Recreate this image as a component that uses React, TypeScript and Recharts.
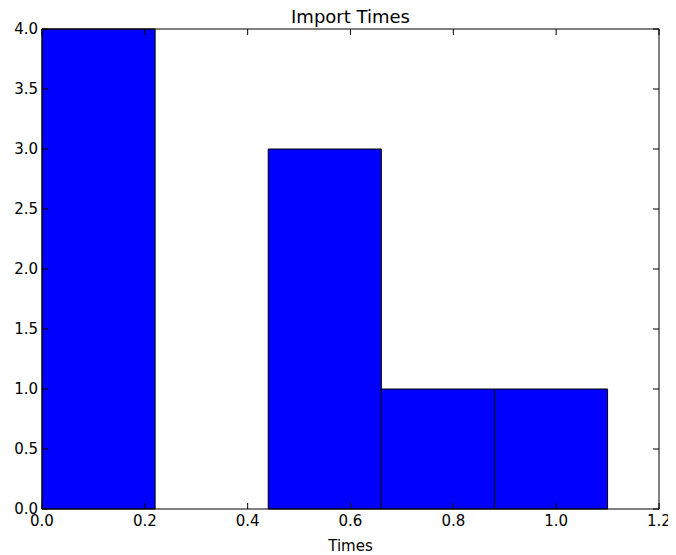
import { ComposedChart, Line, ReferenceArea, XAxis, YAxis } from 'recharts'

// histogram bins: edges and counts
const binStarts = [0.0, 0.22, 0.44, 0.66, 0.88]
const binEnds = [0.22, 0.44, 0.66, 0.88, 1.1]
const counts = [4, 0, 3, 1, 1]

const xTicks = [0, 0.2, 0.4, 0.6, 0.8, 1.0, 1.2]
const yTicks = [0, 0.5, 1, 1.5, 2, 2.5, 3, 3.5, 4]

const bins = binStarts.map((s, i) => ({ start: s, end: binEnds[i], mid: (s + binEnds[i]) / 2, count: counts[i] }))

const font = { fontSize: 15, fill: '#000', fontFamily: 'DejaVu Sans' }
const fmt = (v: number) => v.toFixed(1)

export default function App() {
  return (
    <div style={{ position: 'relative', width: 668, height: 547, fontFamily: 'DejaVu Sans' }}>
      <div
        style={{
          position: 'absolute',
          top: -2,
          left: 34,
          width: 617,
          textAlign: 'center',
          fontSize: 18,
          color: '#000',
        }}
      >
        Import Times
      </div>
      <ComposedChart width={668} height={547} data={bins} margin={{ top: 20, right: 16, left: 0, bottom: 0 }}>
        <XAxis
          dataKey="mid"
          type="number"
          domain={[0, 1.2]}
          ticks={xTicks}
          tickFormatter={fmt}
          height={46}
          tickSize={-6}
          tickMargin={12}
          tick={font}
          stroke="#000"
          interval={0}
          label={{ value: 'Times', position: 'insideBottom', offset: 4, style: font }}
        />
        <XAxis
          xAxisId="top"
          dataKey="mid"
          orientation="top"
          type="number"
          domain={[0, 1.2]}
          ticks={xTicks}
          height={1}
          tickSize={-6}
          tickFormatter={() => ''}
          stroke="#000"
          interval={0}
        />
        <YAxis
          type="number"
          domain={[0, 4]}
          ticks={yTicks}
          tickFormatter={fmt}
          width={34}
          tickSize={-6}
          tickMargin={10}
          tick={font}
          stroke="#000"
          interval={0}
        />
        <YAxis
          yAxisId="right"
          orientation="right"
          type="number"
          domain={[0, 4]}
          ticks={yTicks}
          width={1}
          tickSize={-6}
          tickFormatter={() => ''}
          stroke="#000"
          interval={0}
        />
        {bins
          .filter((b) => b.count > 0)
          .map((b, i) => (
            <ReferenceArea
              key={`bin-${i}`}
              x1={b.start}
              x2={b.end}
              y1={0}
              y2={b.count}
              fill="#0000ff"
              fillOpacity={1}
              stroke="#000"
              strokeWidth={1}
            />
          ))}
        <Line dataKey="count" stroke="none" dot={false} activeDot={false} isAnimationActive={false} />
        <Line
          xAxisId="top"
          yAxisId="right"
          dataKey="count"
          stroke="none"
          dot={false}
          activeDot={false}
          isAnimationActive={false}
        />
      </ComposedChart>
    </div>
  )
}
